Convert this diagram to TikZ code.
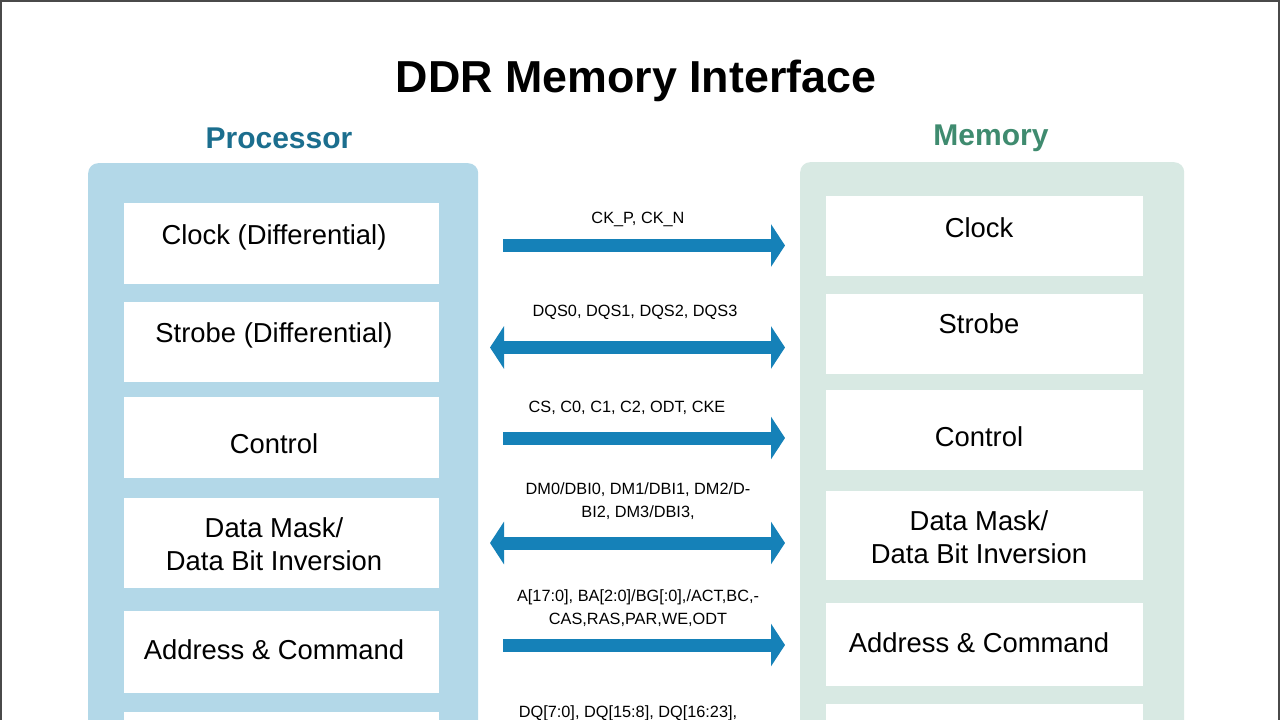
\documentclass[tikz,border=0pt]{standalone}
\usepackage{fontspec}
\setmainfont{Liberation Sans}
\usetikzlibrary{arrows.meta}
\definecolor{procpanel}{HTML}{B3D8E8}
\definecolor{mempanel}{HTML}{D8E9E3}
\definecolor{arrowblue}{HTML}{1581B8}
\definecolor{proctitle}{HTML}{1B6E8E}
\definecolor{memtitle}{HTML}{3F8B6F}
\definecolor{framegray}{HTML}{4A4A4A}
\begin{document}
\begin{tikzpicture}[x=1pt,y=-1pt,
  panel/.style={draw=none, rounded corners=10pt, inner sep=0pt, anchor=north west, minimum height=620pt},
  blockbox/.style={fill=white, draw=none, inner sep=0pt, anchor=north west},
  blocktext/.style={font=\fontsize{27.4}{32.5}\selectfont, align=center, inner sep=0pt, text=black},
  sigtext/.style={font=\fontsize{16.3}{23}\selectfont, align=center, inner sep=0pt, text=black},
  headtext/.style={font=\bfseries\fontsize{30}{36}\selectfont, inner sep=0pt, anchor=base},
  onesig/.style={draw=arrowblue, line width=13pt, -{Triangle[length=14pt,width=42pt]}},
  twosig/.style={draw=arrowblue, line width=13pt, {Triangle[length=14pt,width=42pt]}-{Triangle[length=14pt,width=42pt]}}
]
\useasboundingbox (0,0) rectangle (1280,720);
\clip (0,0) rectangle (1280,720);
\fill[white] (0,0) rectangle (1280,720);

% title
\node[font=\bfseries\fontsize{44.8}{50}\selectfont, inner sep=0pt, anchor=base] (title) at (636,92) {DDR Memory Interface};

% headings
\node[headtext, text=proctitle] (prochead) at (279,148) {Processor};
\node[headtext, text=memtitle] (memhead) at (991,145) {Memory};

% panels
\node[panel, fill=procpanel, minimum width=390pt] (proc) at (88,163) {};
\node[panel, fill=mempanel, minimum width=384pt] (mem) at (800,162) {};

% processor blocks
\node[blockbox, minimum width=315pt, minimum height=81pt] (p1) at (124,203) {};
\node[blockbox, minimum width=315pt, minimum height=80pt] (p2) at (124,302) {};
\node[blockbox, minimum width=315pt, minimum height=81pt] (p3) at (124,397) {};
\node[blockbox, minimum width=315pt, minimum height=90pt] (p4) at (124,498) {};
\node[blockbox, minimum width=315pt, minimum height=82pt] (p5) at (124,611) {};
\node[blockbox, minimum width=315pt, minimum height=60pt] (p6) at (124,712) {};

\node[blocktext, anchor=base] (p1t) at (274,244) {Clock (Differential)};
\node[blocktext, anchor=base] (p2t) at (274,342) {Strobe (Differential)};
\node[blocktext, anchor=base] (p3t) at (274,453) {Control};
\node[blocktext] (p4t) at (274,544) {Data Mask/\\Data Bit Inversion};
\node[blocktext, anchor=base] (p5t) at (274,659) {Address \& Command};

% memory blocks
\node[blockbox, minimum width=317pt, minimum height=80pt] (m1) at (826,196) {};
\node[blockbox, minimum width=317pt, minimum height=80pt] (m2) at (826,294) {};
\node[blockbox, minimum width=317pt, minimum height=80pt] (m3) at (826,390) {};
\node[blockbox, minimum width=317pt, minimum height=89pt] (m4) at (826,491) {};
\node[blockbox, minimum width=317pt, minimum height=83pt] (m5) at (826,603) {};
\node[blockbox, minimum width=317pt, minimum height=60pt] (m6) at (826,704) {};

\node[blocktext, anchor=base] (m1t) at (979,237) {Clock};
\node[blocktext, anchor=base] (m2t) at (979,333) {Strobe};
\node[blocktext, anchor=base] (m3t) at (979,446) {Control};
\node[blocktext] (m4t) at (979,537) {Data Mask/\\Data Bit Inversion};
\node[blocktext, anchor=base] (m5t) at (979,652) {Address \& Command};

% signal coordinates
\coordinate (s1a) at (503,245.5);  \coordinate (s1b) at (785,245.5);
\coordinate (s2a) at (490,347.5);  \coordinate (s2b) at (785,347.5);
\coordinate (s3a) at (503,438);    \coordinate (s3b) at (785,438);
\coordinate (s4a) at (490,543);    \coordinate (s4b) at (785,543);
\coordinate (s5a) at (503,645);    \coordinate (s5b) at (785,645);

\draw[onesig] (s1a) -- (s1b);
\draw[twosig] (s2a) -- (s2b);
\draw[onesig] (s3a) -- (s3b);
\draw[twosig] (s4a) -- (s4b);
\draw[onesig] (s5a) -- (s5b);

% signal labels
\node[sigtext, anchor=base] (l1) at (638,223) {CK\_P, CK\_N};
\node[sigtext, anchor=base] (l2) at (635,316) {DQS0, DQS1, DQS2, DQS3};
\node[sigtext, anchor=base] (l3) at (627,412) {CS, C0, C1, C2, ODT, CKE};
\node[sigtext] (l4) at (638,501) {DM0/DBI0, DM1/DBI1, DM2/D-\\BI2, DM3/DBI3,};
\node[sigtext] (l5) at (638,608) {A[17:0], BA[2:0]/BG[:0],/ACT,BC,-\\CAS,RAS,PAR,WE,ODT};
\node[sigtext, anchor=base] (l6) at (628,717) {DQ[7:0], DQ[15:8], DQ[16:23],};

% frame
\draw[framegray, line width=2pt] (1,720) -- (1,1) -- (1278.8,1) -- (1278.8,720);
\end{tikzpicture}
\end{document}
